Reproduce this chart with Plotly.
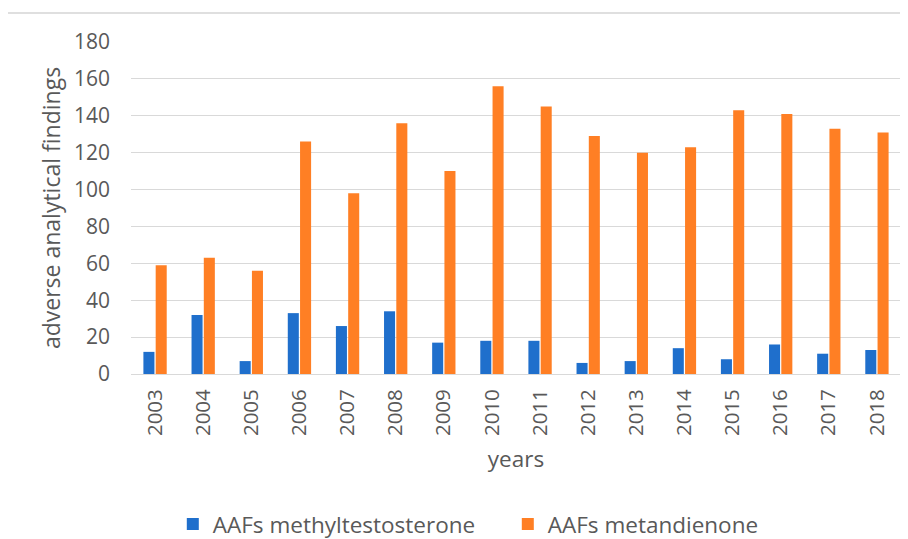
import plotly.graph_objects as go

years = [str(y) for y in range(2003, 2019)]
methyltestosterone = [12, 32, 7, 33, 26, 34, 17, 18, 18, 6, 7, 14, 8, 16, 11, 13]
metandienone = [59, 63, 56, 126, 98, 136, 110, 156, 145, 129, 120, 123, 143, 141, 133, 131]
y_ticks = list(range(0, 181, 20))

font_family = "Open Sans, Liberation Sans, sans-serif"
text_color = "#595959"

fig = go.Figure()
fig.add_trace(go.Bar(x=years, y=methyltestosterone, name="AAFs methyltestosterone",
                     marker=dict(color="#1f6fcc", line=dict(width=0))))
fig.add_trace(go.Bar(x=years, y=metandienone, name="AAFs metandienone",
                     marker=dict(color="#ff7f24", line=dict(width=0))))

fig.update_layout(
    width=908, height=539,
    margin=dict(l=123, r=15, t=34, b=173, autoexpand=False),
    paper_bgcolor="white", plot_bgcolor="white",
    barmode="group", bargap=0.49, bargroupgap=0.1,
    font=dict(family=font_family, color=text_color, size=22),
    showlegend=True,
    legend=dict(orientation="h", xref="container", x=0.1815, xanchor="left",
                yref="container", y=0.042, yanchor="middle",
                font=dict(size=22.5, color=text_color), itemwidth=30,
                traceorder="normal", entrywidth=290),
    xaxis=dict(type="category", tickangle=-90, showgrid=False, showline=True,
               linecolor="#d9d9d9", linewidth=1, ticks="", automargin=False,
               tickfont=dict(size=20.5, color=text_color), ticklabelstandoff=6,
               title=dict(text="years", font=dict(size=22.5, color=text_color), standoff=16)),
    yaxis=dict(range=[0, 180], tickvals=y_ticks, showgrid=True, gridcolor="#d9d9d9",
               gridwidth=1, zeroline=False, showline=False, ticks="", automargin=False,
               tickfont=dict(size=21, color=text_color), ticklabelstandoff=20,
               title=dict(text="adverse analytical findings", font=dict(size=23, color=text_color), standoff=6)),
    shapes=[dict(type="line", xref="paper", yref="paper", x0=-0.16, x1=1.03, y0=1.087, y1=1.087,
                 line=dict(color="#d4d4d4", width=1.5))],
)

fig.write_html("out.html")
